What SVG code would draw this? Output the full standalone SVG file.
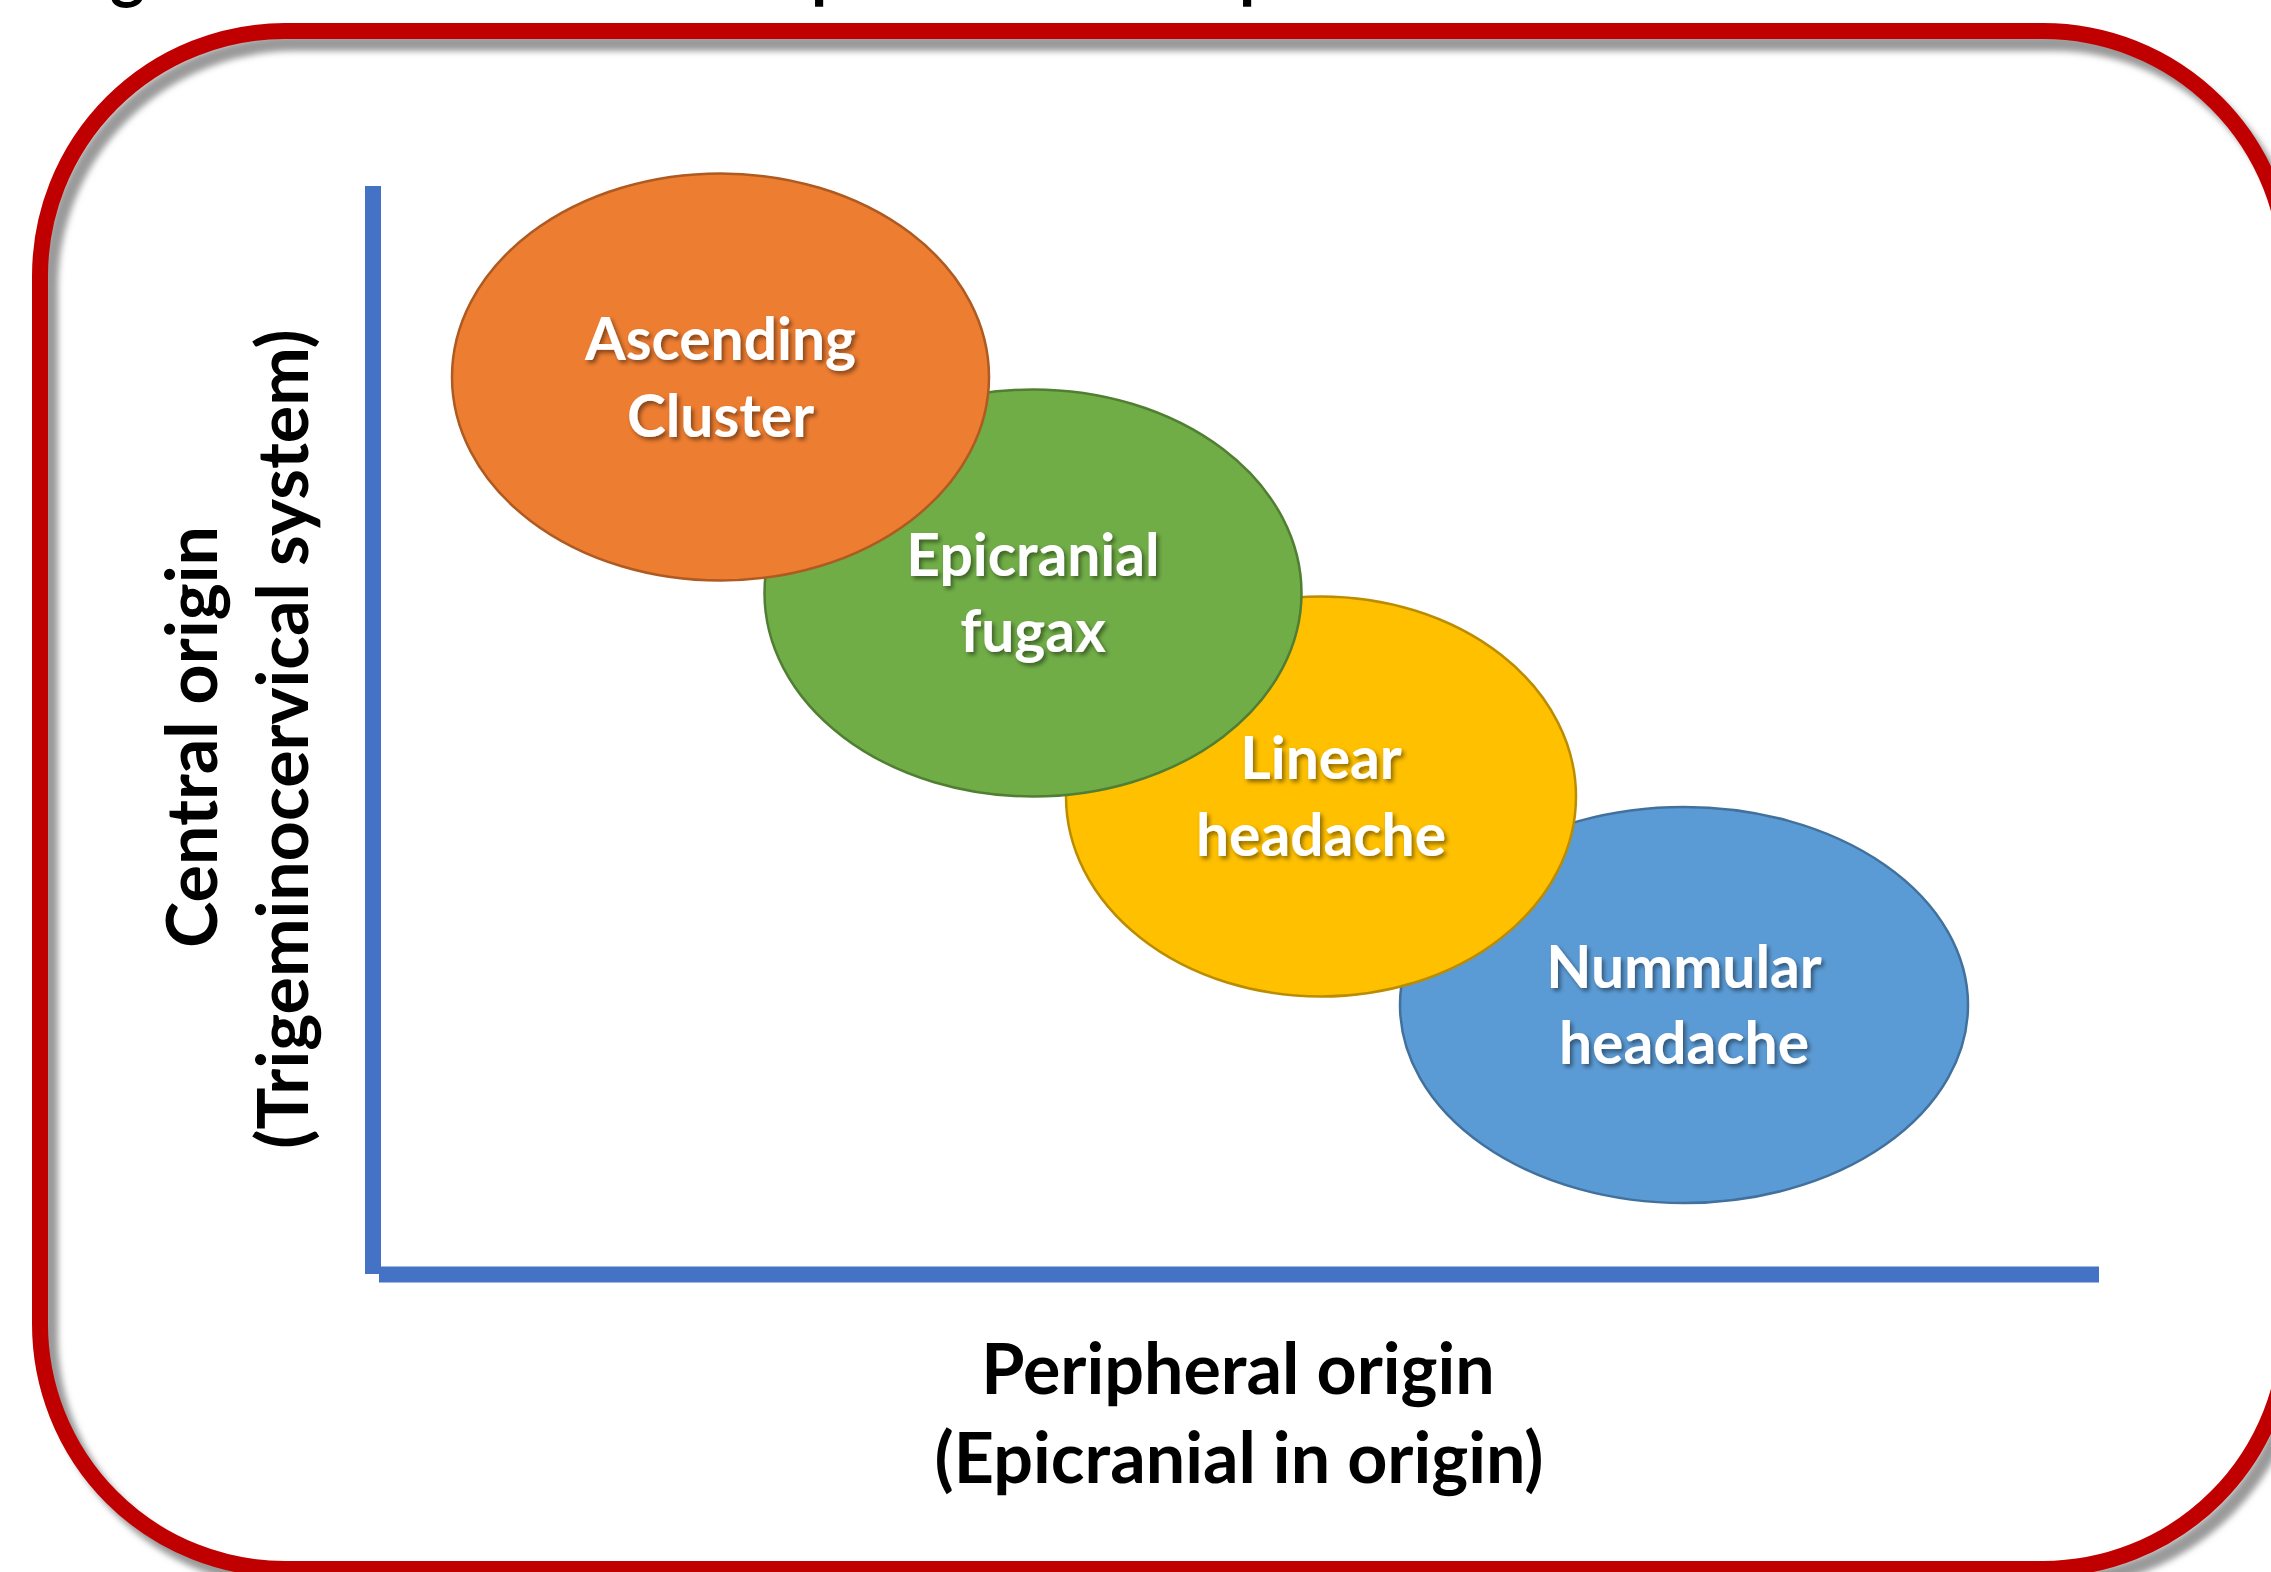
<svg xmlns="http://www.w3.org/2000/svg" width="2271" height="1572" viewBox="0 0 2271 1572">
  <defs>
    <filter id="frameShadow" x="-5%" y="-5%" width="110%" height="110%">
      <feGaussianBlur stdDeviation="3"/>
    </filter>
    <filter id="txtShadow" x="-10%" y="-20%" width="120%" height="140%">
      <feDropShadow dx="2.5" dy="3" stdDeviation="2" flood-color="#000" flood-opacity="0.45"/>
    </filter>
    <style>
      .frame { fill: none; stroke: #C00000; stroke-width: 16; }
      .frameSh { fill: none; stroke: #9a9a9a; stroke-width: 16; }
      .axis { stroke: #4472C4; stroke-width: 16; fill: none; }
      .lbl { font-family: Lato, "Open Sans", "Liberation Sans", sans-serif; font-weight: 700; fill: #FFFFFF; font-size: 58.7px; text-anchor: middle; }
      .ax { font-family: Lato, "Open Sans", "Liberation Sans", sans-serif; font-weight: 700; fill: #000000; font-size: 70px; text-anchor: middle; }
      .ttl { font-family: Lato, "Open Sans", "Liberation Sans", sans-serif; font-weight: 700; fill: #000000; font-size: 66px; }
    </style>
  </defs>
  <rect width="2271" height="1572" fill="#FFFFFF"/>

  <g id="title-fragment">
    <text class="ttl" x="110" y="-5">g</text>
    <text class="ttl" x="811" y="-5">p</text>
    <text class="ttl" x="1239" y="-5">p</text>
  </g>

  <g id="frame">
    <rect class="frameSh" x="50" y="43" width="2248" height="1538" rx="245" ry="245" filter="url(#frameShadow)"/>
    <rect class="frame" x="40" y="31" width="2248" height="1538" rx="245" ry="245"/>
  </g>

  <g id="connectors">
    <line class="axis" x1="373" y1="186" x2="373" y2="1274"/>
    <line class="axis" x1="379" y1="1274.5" x2="2099" y2="1274.5"/>
  </g>

  <g id="node-nummular">
    <ellipse cx="1684" cy="1005" rx="284" ry="198" fill="#5B9BD5" stroke="#41719C" stroke-width="2.5"/>
    <text class="lbl" filter="url(#txtShadow)"><tspan x="1684" y="988">Nummular</tspan><tspan x="1684" y="1064">headache</tspan></text>
  </g>

  <g id="node-linear">
    <ellipse cx="1321" cy="796.5" rx="255" ry="200" fill="#FFC000" stroke="#BC8C00" stroke-width="2.5"/>
    <text class="lbl" filter="url(#txtShadow)"><tspan x="1321" y="779">Linear</tspan><tspan x="1321" y="856">headache</tspan></text>
  </g>

  <g id="node-epicranial">
    <ellipse cx="1033" cy="593" rx="268.5" ry="203.5" fill="#70AD47" stroke="#507E32" stroke-width="2.5"/>
    <text class="lbl" filter="url(#txtShadow)"><tspan x="1033" y="576">Epicranial</tspan><tspan x="1033" y="652">fugax</tspan></text>
  </g>

  <g id="node-cluster">
    <ellipse cx="720.5" cy="377" rx="268.5" ry="203.5" fill="#ED7D31" stroke="#AE5A21" stroke-width="2.5"/>
    <text class="lbl" filter="url(#txtShadow)"><tspan x="720.5" y="360">Ascending</tspan><tspan x="720.5" y="437">Cluster</tspan></text>
  </g>

  <g id="axis-label-y">
    <text class="ax" transform="translate(217,737) rotate(-90)" x="0" y="0">Central origin</text>
    <text class="ax" transform="translate(308,739) rotate(-90)" x="0" y="0">(Trigeminocervical system)</text>
  </g>

  <g id="axis-label-x">
    <text class="ax" x="1238" y="1394">Peripheral origin</text>
    <text class="ax" x="1239" y="1483">(Epicranial in origin)</text>
  </g>
</svg>
